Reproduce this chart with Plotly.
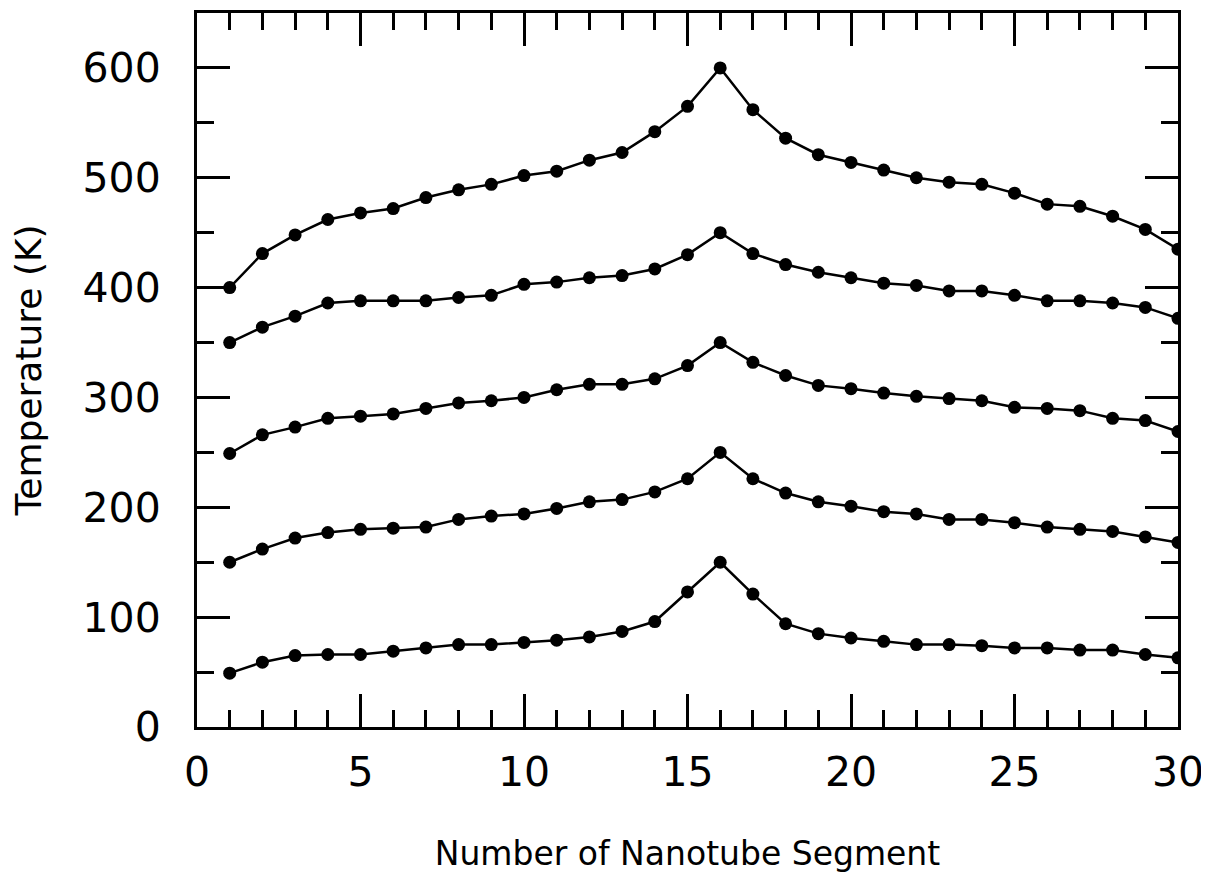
import plotly.graph_objects as go

segments = list(range(1, 31))

temp_series_1 = [400, 431, 448, 462, 468, 472, 482, 489, 494, 502, 506, 516, 523, 542, 565,
                 600, 562, 536, 521, 514, 507, 500, 496, 494, 486, 476, 474, 465, 453, 435]
temp_series_2 = [350, 364, 374, 386, 388, 388, 388, 391, 393, 403, 405, 409, 411, 417, 430,
                 450, 431, 421, 414, 409, 404, 402, 397, 397, 393, 388, 388, 386, 382, 372]
temp_series_3 = [249, 266, 273, 281, 283, 285, 290, 295, 297, 300, 307, 312, 312, 317, 329,
                 350, 332, 320, 311, 308, 304, 301, 299, 297, 291, 290, 288, 281, 279, 269]
temp_series_4 = [150, 162, 172, 177, 180, 181, 182, 189, 192, 194, 199, 205, 207, 214, 226,
                 250, 226, 213, 205, 201, 196, 194, 189, 189, 186, 182, 180, 178, 173, 168]
temp_series_5 = [49, 59, 65, 66, 66, 69, 72, 75, 75, 77, 79, 82, 87, 96, 123,
                 150, 121, 94, 85, 81, 78, 75, 75, 74, 72, 72, 70, 70, 66, 63]

all_series = [temp_series_1, temp_series_2, temp_series_3, temp_series_4, temp_series_5]

fig = go.Figure()
for s in all_series:
    fig.add_trace(go.Scatter(
        x=segments, y=s, mode="lines+markers",
        line=dict(color="black", width=2.5),
        marker=dict(color="black", size=13, symbol="circle"),
        showlegend=False,
    ))

axis_font = dict(family="DejaVu Sans", size=41, color="black")

# page body has an 8px default margin, so the figure is sized/offset to compensate
fig.update_layout(
    width=1201, height=874,
    margin=dict(l=189, r=31, t=2, b=155),
    paper_bgcolor="white", plot_bgcolor="white",
    xaxis=dict(
        range=[0, 30], dtick=5, tick0=0,
        ticks="inside", ticklen=33, tickwidth=3, tickcolor="black",
        minor=dict(dtick=1, ticks="inside", ticklen=17, tickwidth=3, tickcolor="black"),
        showline=True, linewidth=3, linecolor="black", mirror="ticks",
        showgrid=False, zeroline=False,
        tickfont=axis_font, ticklabelstandoff=7, ticklabeloverflow="allow",
        title=dict(text="Number of Nanotube Segment",
                   font=dict(family="DejaVu Sans", size=33, color="black"),
                   standoff=47),
    ),
    yaxis=dict(
        range=[0, 650], dtick=100, tick0=0,
        ticks="inside", ticklen=33, tickwidth=3, tickcolor="black",
        minor=dict(dtick=50, ticks="inside", ticklen=17, tickwidth=3, tickcolor="black"),
        showline=True, linewidth=3, linecolor="black", mirror="ticks",
        showgrid=False, zeroline=False,
        tickfont=axis_font, ticklabelstandoff=25,
        title=dict(text="Temperature (K)",
                   font=dict(family="DejaVu Sans", size=36, color="black"),
                   standoff=32),
    ),
)

fig.write_html("out.html")
